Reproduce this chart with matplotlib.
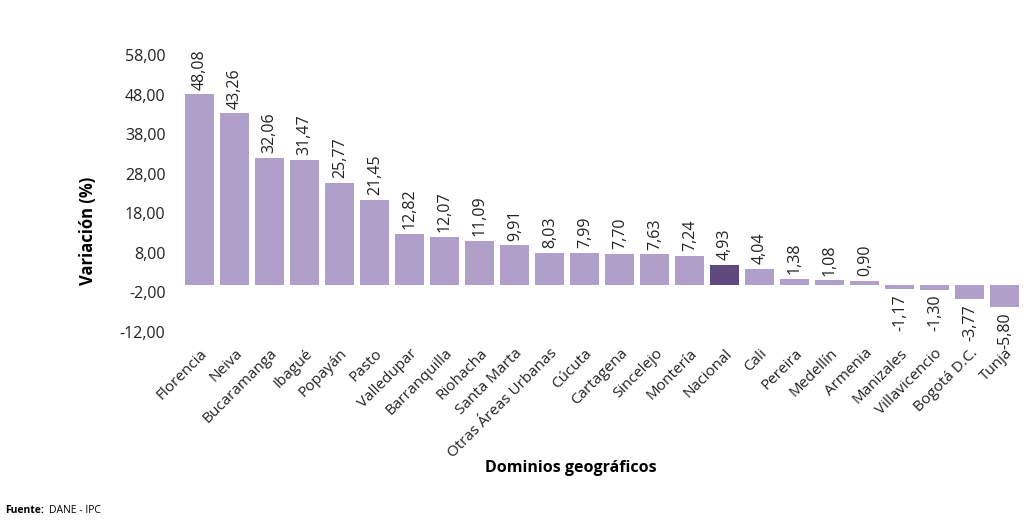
import matplotlib.pyplot as plt

plt.rcParams['font.family'] = ['Open Sans', 'DejaVu Sans']

# data
dominios = ["Florencia", "Neiva", "Bucaramanga", "Ibagué", "Popayán", "Pasto",
            "Valledupar", "Barranquilla", "Riohacha", "Santa Marta",
            "Otras Áreas Urbanas", "Cúcuta", "Cartagena", "Sincelejo", "Montería",
            "Nacional", "Cali", "Pereira", "Medellín", "Armenia", "Manizales",
            "Villavicencio", "Bogotá D.C.", "Tunja"]
variacion = [48.08, 43.26, 32.06, 31.47, 25.77, 21.45, 12.82, 12.07, 11.09, 9.91,
             8.03, 7.99, 7.70, 7.63, 7.24, 4.93, 4.04, 1.38, 1.08, 0.90,
             -1.17, -1.30, -3.77, -5.80]
yticks = [-12, -2, 8, 18, 28, 38, 48, 58]

color_bar = '#b09fc8'
color_nac = '#5e4a7e'
text_col = '#222222'

fig = plt.figure(figsize=(10.24, 5.25), dpi=100)
ax = fig.add_axes([0.178, 0.3676, 0.8205, 0.5276])

x = list(range(len(dominios)))
colors = [color_nac if d == "Nacional" else color_bar for d in dominios]
ax.bar(x, variacion, width=0.83, color=colors)

fmt = lambda v: f"{v:.2f}".replace('.', ',')

# value labels
for xi, v in zip(x, variacion):
    if v >= 0:
        ax.text(xi, v + 1.2, fmt(v), rotation=90, ha='center', va='bottom',
                fontsize=11.5, color=text_col)
    else:
        ax.text(xi, v - 1.2, fmt(v), rotation=90, ha='center', va='top',
                fontsize=11.5, color=text_col)

ax.set_xlim(-0.5, len(dominios) - 0.5)
ax.set_ylim(-12, 58)
ax.set_yticks(yticks)
ax.set_yticklabels([fmt(t) for t in yticks], fontsize=11.5, color=text_col)
ax.set_xticks(x)
ax.set_xticklabels(dominios, rotation=45, ha='right', rotation_mode='anchor',
                   fontsize=11, color=text_col)
ax.tick_params(axis='both', length=0)
ax.tick_params(axis='x', pad=10)
ax.tick_params(axis='y', pad=12)
for s in ax.spines.values():
    s.set_visible(False)

fig.text(0.086, 0.56, "Variación (%)", rotation=90, ha='center', va='center',
         fontsize=12, fontweight='bold', color='black')
fig.text(0.557, 0.108, "Dominios geográficos", ha='center', va='center',
         fontsize=11.5, fontweight='bold', color='black')
fig.text(0.005, 0.028, "Fuente:", ha='left', va='center', fontsize=7.5,
         fontweight='bold', color='black')
fig.text(0.048, 0.028, "DANE - IPC", ha='left', va='center', fontsize=7.5,
         color='black')

fig.savefig('out.png', dpi=100)
